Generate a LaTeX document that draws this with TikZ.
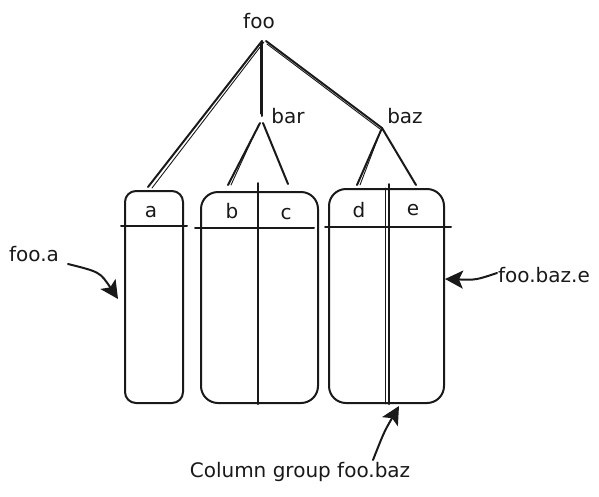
\documentclass[tikz,border=0pt]{standalone}
\usepackage{fontspec}
\setmainfont{DejaVu Sans}
\usetikzlibrary{arrows.meta,calc}
\begin{document}
\begin{tikzpicture}[x=1pt,y=-1pt,
  ink/.style={draw=black!90, line width=2pt, line cap=round, line join=round},
  thin ink/.style={draw=black!90, line width=0.9pt, line cap=round},
  colbox/.style={ink, inner sep=0pt},
  lbl/.style={font=\fontsize{20}{22}\selectfont, inner sep=1pt, text=black!90},
  pointer/.style={ink, -{Stealth[length=18pt,width=18pt,inset=4pt]}}
]
\useasboundingbox (0,0) rectangle (599,496);
% text labels
\node[lbl] (foo) at (259,21) {foo};
\node[lbl] (bar) at (288,116) {bar};
\node[lbl] (baz) at (405,116) {baz};
% junctions
\coordinate (root) at (262,41);
\coordinate (jbarTop) at (262,116);
\coordinate (jbar) at (260,123);
\coordinate (jbaz) at (382,128);
% column boxes
\node[colbox, rounded corners=11pt, minimum width=58pt, minimum height=212pt] (A) at (154,297) {};
\node[colbox, rounded corners=17pt, minimum width=117pt, minimum height=211pt] (B) at (259.5,297.5) {};
\node[colbox, rounded corners=17pt, minimum width=115pt, minimum height=214pt] (C) at (386.5,296) {};
% dividers
\draw[ink] ($(B.north)+(-1.5,-8)$) -- ($(B.south)+(-1.5,0)$);
\draw[ink] ($(C.north)+(2.5,-4)$) -- ($(C.south)+(2.5,0)$);
\draw[thin ink] ($(C.north)+(-1.5,0)$) -- ($(C.south)+(-1.5,0)$);
% header lines
\draw[ink] ($(A.north west)+(-3,36)$) -- ($(A.north east)+(3,36)$);
\draw[ink] ($(B.north west)+(-5,37)$) -- ($(B.north east)+(-5,37)$);
\draw[ink] ($(C.north west)+(-3,39)$) -- ($(C.north east)+(6,39)$);
% column names
\node[lbl] (a) at (151,212) {a};
\node[lbl] (b) at (232,211) {b};
\node[lbl] (c) at (286,214) {c};
\node[lbl] (d) at (359,210) {d};
\node[lbl] (e) at (413,210) {e};
% tree
\coordinate (ta) at (148,187);
\coordinate (tb) at (228,185);
\coordinate (tc) at (288,184);
\coordinate (td) at (357,185);
\coordinate (te) at (416,185);
\draw[ink] (root) -- (ta);
\draw[thin ink] ($(root)+(2,1)$) -- ($(ta)+(4,1)$);
\draw[ink] (root) -- (jbarTop);
\draw[thin ink] ($(root)+(-2,2)$) -- ($(jbarTop)+(-2,-2)$);
\draw[ink] ($(root)+(4,0)$) -- (jbaz);
\draw[thin ink] ($(root)+(5,3)$) -- ($(jbaz)+(-2,1)$);
\draw[ink] (jbar) -- (tb);
\draw[thin ink] ($(jbar)+(-1,1)$) -- ($(tb)+(3,0)$);
\draw[ink] ($(jbar)+(3,0)$) -- (tc);
\draw[ink] (jbaz) -- (td);
\draw[thin ink] ($(jbaz)+(-1,2)$) -- ($(td)+(3,0)$);
\draw[ink] (jbaz) -- (te);
% annotations
\node[lbl] (fooa) at (34,254) {foo.a};
\node[lbl] (foobaze) at (544,275) {foo.baz.e};
\node[lbl] (group) at (300,472) {Column group foo.baz};
\coordinate (fooaStart) at (68,264);
\coordinate (fooaEnd) at (118,299);
\coordinate (eStart) at (497,273);
\coordinate (eEnd) at (445,279);
\coordinate (gStart) at (373,460);
\coordinate (gEnd) at (399,406);
\draw[pointer] (fooaStart) .. controls (100,272) .. (fooaEnd);
\draw[pointer] (eStart) .. controls (476,280) .. (eEnd);
\draw[pointer] (gStart) .. controls (384,432) .. (gEnd);
\end{tikzpicture}
\end{document}
